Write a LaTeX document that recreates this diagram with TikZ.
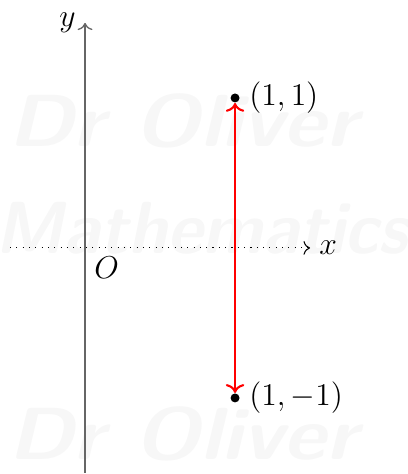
\documentclass[tikz,border=0pt]{standalone}
\usepackage{amsmath}
\usepackage{tikz}
\usetikzlibrary{arrows.meta,positioning}

\begin{document}
\begin{tikzpicture}[
    x=2cm, y=2cm,
    font=\large,
    axis/.style={->, line width=0.5pt, draw=black!60},
    xaxis/.style={->, dotted, draw=black},
    dotpt/.style={circle, fill=black, inner sep=0pt, minimum size=3.4pt},
    wmark/.style={text=black!3, font=\fontsize{28}{28}\selectfont\sffamily\bfseries\itshape},
    seg/.style={<->, draw=red, thick}
  ]
    \useasboundingbox (-0.567,-1.507) rectangle (2.147,1.653);
    % watermark
    \node[wmark, xscale=1.12] (wm1) at (0.65,0.85) {Dr Oliver};
    \node[wmark, xscale=0.94] (wm2) at (0.78,0.13) {Mathematics};
    \node[wmark, xscale=1.12] (wm3) at (0.65,-1.24) {Dr Oliver};
    % axes
    \coordinate (O) at (0,0);
    \coordinate (ybot) at (0,-1.5);
    \coordinate (ytop) at (0,1.5);
    \coordinate (xleft) at (-0.5,0);
    \coordinate (xright) at (1.5,0);
    \draw[xaxis] (xleft) -- (xright);
    \draw[axis] (ybot) -- (ytop);
    \node[left=0pt of ytop] (ylab) {$y$};
    \node[right=0pt of xright] (xlab) {$x$};
    \node[below right=0pt of O] (olab) {$O$};
    % points
    \node[dotpt] (P) at (1,1) {};
    \node[dotpt] (Q) at (1,-1) {};
    \node[right=0pt of P] (plab) {$(1,1)$};
    \node[right=0pt of Q] (qlab) {$(1,-1)$};
    \draw[seg] (P) -- (Q);
  \end{tikzpicture}
\end{document}
